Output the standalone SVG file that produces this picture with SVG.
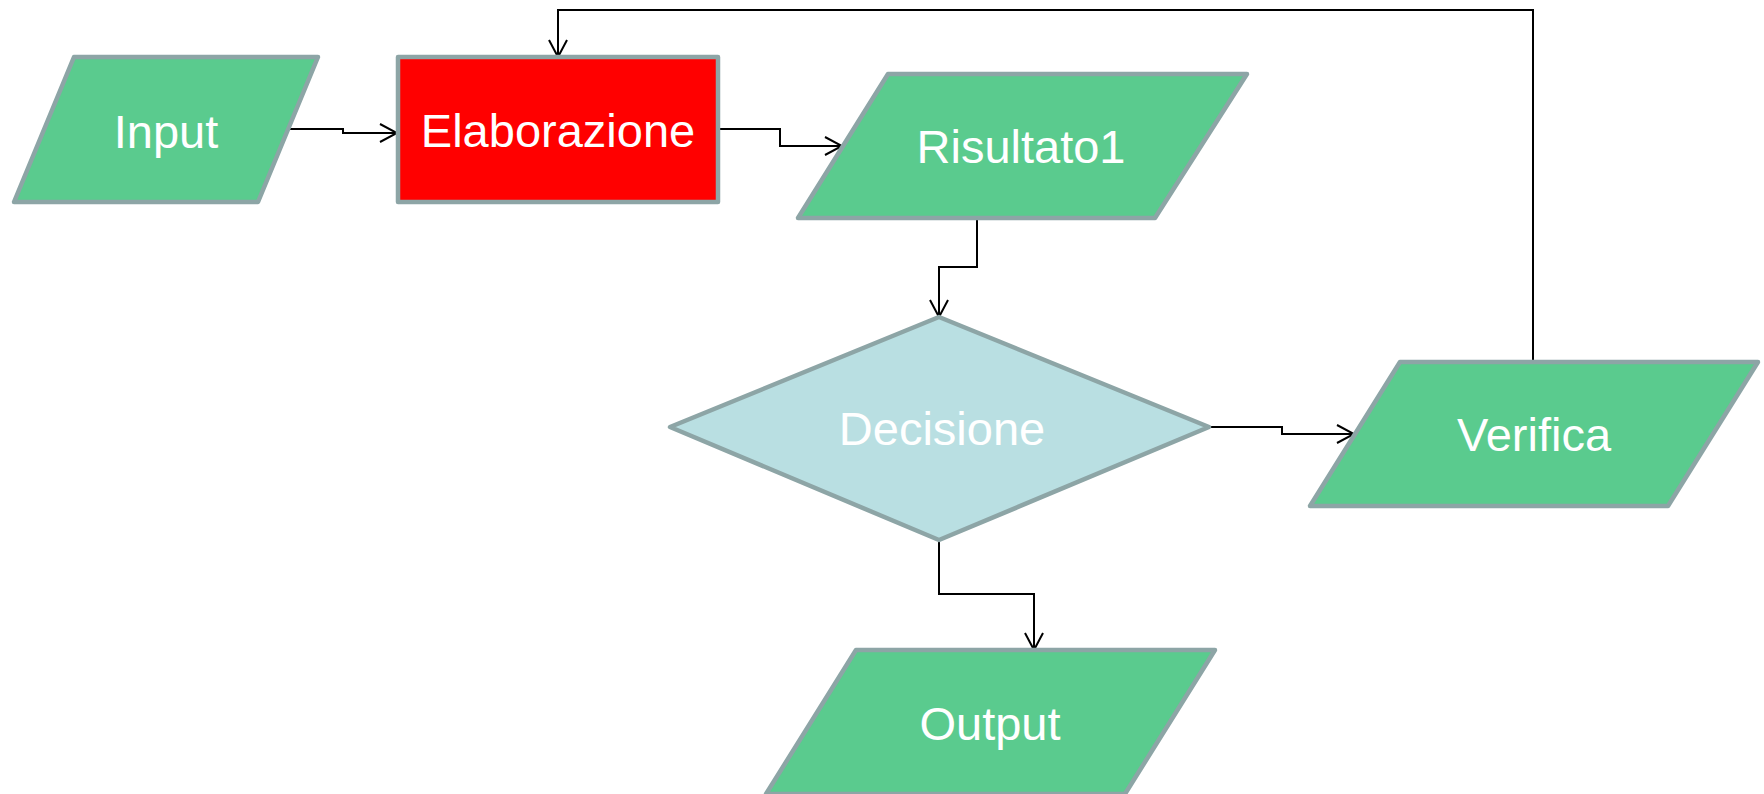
<svg xmlns="http://www.w3.org/2000/svg" width="1764" height="794" viewBox="0 0 1764 794">
<defs>
<style>
.node{stroke:#8DA5A6;stroke-width:4.5;stroke-linejoin:round}
.io{fill:#5ACB8E}
.proc{fill:#FF0000}
.dec{fill:#B9DFE2}
.lbl{font-family:"Liberation Sans",Arial,sans-serif;font-size:47px;fill:#FFFFFF;text-anchor:middle}
.conn{fill:none;stroke:#000000;stroke-width:2;marker-end:url(#arr)}
</style>
<marker id="arr" markerUnits="userSpaceOnUse" viewBox="0 0 20 20" refX="18" refY="10" markerWidth="20" markerHeight="20" orient="auto">
<path d="M1,1 L18,10 L1,19" fill="none" stroke="#000000" stroke-width="2"/>
</marker>
</defs>
<rect width="1764" height="794" fill="#FFFFFF"/>
<g id="connectors">
<path class="conn" d="M288,129 H343 V133 H397"/>
<path class="conn" d="M718,129 H780 V146 H842"/>
<path class="conn" d="M977,218 V267 H939 V317"/>
<path class="conn" d="M1209,427 H1282 V434 H1354"/>
<path class="conn" d="M1533,362 V10 H558 V57"/>
<path class="conn" d="M939,540 V594 H1034 V650"/>
</g>
<g id="input">
<polygon class="node io" points="74,57 318,57 258,202 14,202"/>
<text class="lbl" x="166" y="148">Input</text>
</g>
<g id="elaborazione">
<rect class="node proc" x="398" y="57" width="320" height="145"/>
<text class="lbl" x="558" y="147">Elaborazione</text>
</g>
<g id="risultato1">
<polygon class="node io" points="888,74 1247,74 1155,218 798,218"/>
<text class="lbl" x="1021" y="163">Risultato1</text>
</g>
<g id="decisione">
<polygon class="node dec" points="670,427 939,317 1209,427 939,540"/>
<text class="lbl" x="942" y="445">Decisione</text>
</g>
<g id="verifica">
<polygon class="node io" points="1400,362 1758,362 1668,506 1310,506"/>
<text class="lbl" x="1534" y="451">Verifica</text>
</g>
<g id="output">
<polygon class="node io" points="856,650 1215,650 1125,794 766,794"/>
<text class="lbl" x="990" y="740">Output</text>
</g>
</svg>
